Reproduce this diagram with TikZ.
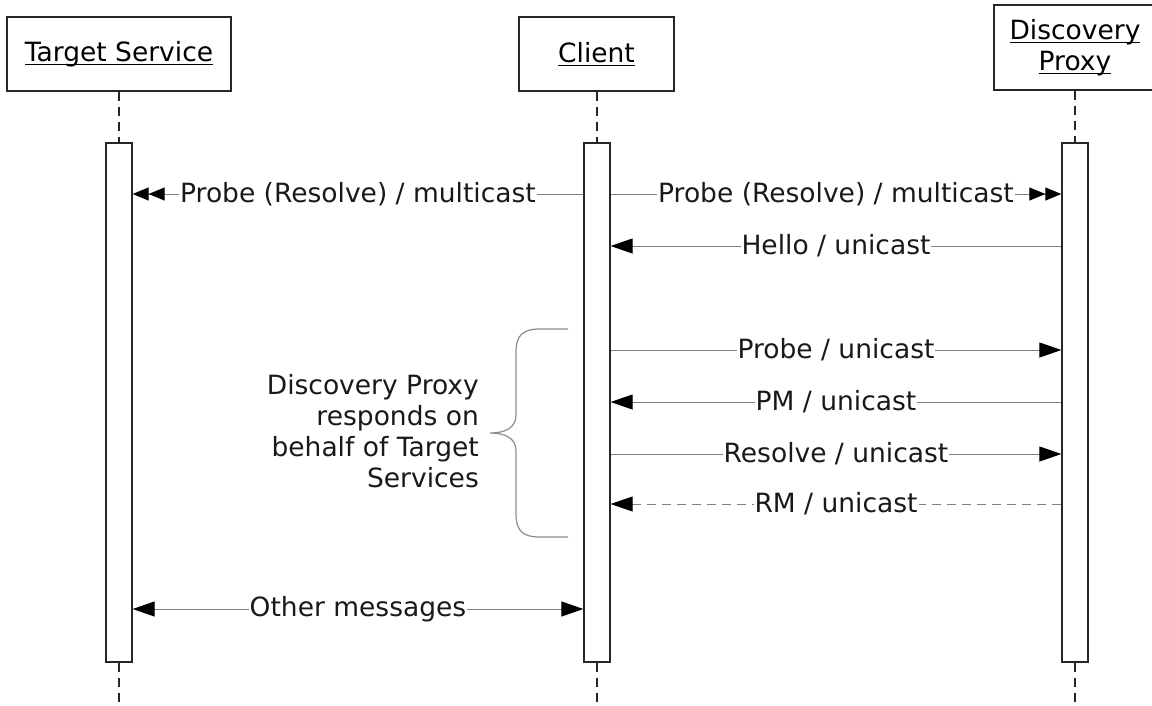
\documentclass[tikz,border=0pt]{standalone}
\usepackage{fontspec}
\setmainfont{DejaVu Sans}
\usetikzlibrary{arrows.meta}
\newcommand\myul[1]{\setbox0\hbox{#1}\rlap{\rule[-3.5pt]{\wd0}{1.3pt}}\box0}
\begin{document}
\begin{tikzpicture}[x=1pt,y=-1pt,
  font=\fontsize{26.5}{31}\selectfont,
  headbox/.style={draw=black!85, line width=1.3pt, inner sep=0pt, align=center, fill=white},
  actbar/.style={draw=black!85, line width=1.3pt, fill=white, minimum width=26pt, minimum height=519pt, inner sep=0pt},
  life/.style={draw=black!85, line width=1.1pt, dash pattern=on 9pt off 6pt},
  msg/.style={draw=black!50, line width=1pt},
  one/.style={-{Triangle[length=22pt,width=15pt,black]}},
  multi/.style={-{Triangle[length=16pt,width=13pt,black]Triangle[length=16pt,width=13pt,black]}},
  both/.style={{Triangle[length=22pt,width=15pt,black]}-{Triangle[length=22pt,width=15pt,black]}},
  lbl/.style={midway, fill=white, inner xsep=1pt, inner ysep=0pt, text=black!90},
]
\useasboundingbox (0,0) rectangle (1152,705);
\clip (0,0) rectangle (1152,705);
\fill[white] (0,0) rectangle (1152,705);

% heads
\node[headbox, minimum width=224pt, minimum height=74pt] (ts) at (119,54) {\myul{Target Service}};
\node[headbox, minimum width=155pt, minimum height=74pt] (cl) at (596.5,54) {\myul{Client}};
\node[headbox, minimum width=182pt, minimum height=85pt] (dp) at (1085,47.5) {};
\node[align=center, inner sep=0pt] (dptext) at (1075,47.5) {\myul{Discovery}\\\myul{Proxy}};

% lifeline ends
\coordinate (tsend) at (119,705);
\coordinate (clend) at (597,705);
\coordinate (dpend) at (1075,705);

% activation bars
\node[actbar] (tb) at (119,402.5) {};
\node[actbar] (cb) at (597,402.5) {};
\node[actbar] (db) at (1075,402.5) {};

% lifelines
\draw[life] (ts.south) -- (tb.north);
\draw[life] (cl.south -| cb.north) -- (cb.north);
\draw[life] (dp.south -| db.north) -- (db.north);
\draw[life] (tb.south) -- (tsend);
\draw[life] (cb.south) -- (clend);
\draw[life] (db.south) -- (dpend);

% messages
\draw[msg,multi] (cb.west |- 0,194) -- node[lbl]{Probe (Resolve) / multicast} (tb.east |- 0,194);
\draw[msg,multi] (cb.east |- 0,194) -- node[lbl]{Probe (Resolve) / multicast} (db.west |- 0,194);
\draw[msg,one] (db.west |- 0,246) -- node[lbl]{Hello / unicast} (cb.east |- 0,246);
\draw[msg,one] (cb.east |- 0,350) -- node[lbl]{Probe / unicast} (db.west |- 0,350);
\draw[msg,one] (db.west |- 0,402) -- node[lbl]{PM / unicast} (cb.east |- 0,402);
\draw[msg,one] (cb.east |- 0,454) -- node[lbl]{Resolve / unicast} (db.west |- 0,454);
\draw[msg,one,dash pattern=on 9pt off 6pt] (db.west |- 0,504) -- node[lbl]{RM / unicast} (cb.east |- 0,504);
\draw[msg,both] (tb.east |- 0,609) -- node[lbl]{Other messages} (cb.west |- 0,609);

% brace and note
\draw[black!45, line width=1.2pt] (568,329) -- (540,329) .. controls (522,329) and (516,336) .. (516,352) -- (516,415) .. controls (516,428) and (505,433) .. (490,433) .. controls (505,433) and (516,438) .. (516,451) -- (516,514) .. controls (516,530) and (522,537) .. (540,537) -- (568,537);
\node[align=right, anchor=east, inner sep=0pt, text=black!90] (note) at (479,431) {Discovery Proxy\\responds on\\behalf of Target\\Services};
\end{tikzpicture}
\end{document}
